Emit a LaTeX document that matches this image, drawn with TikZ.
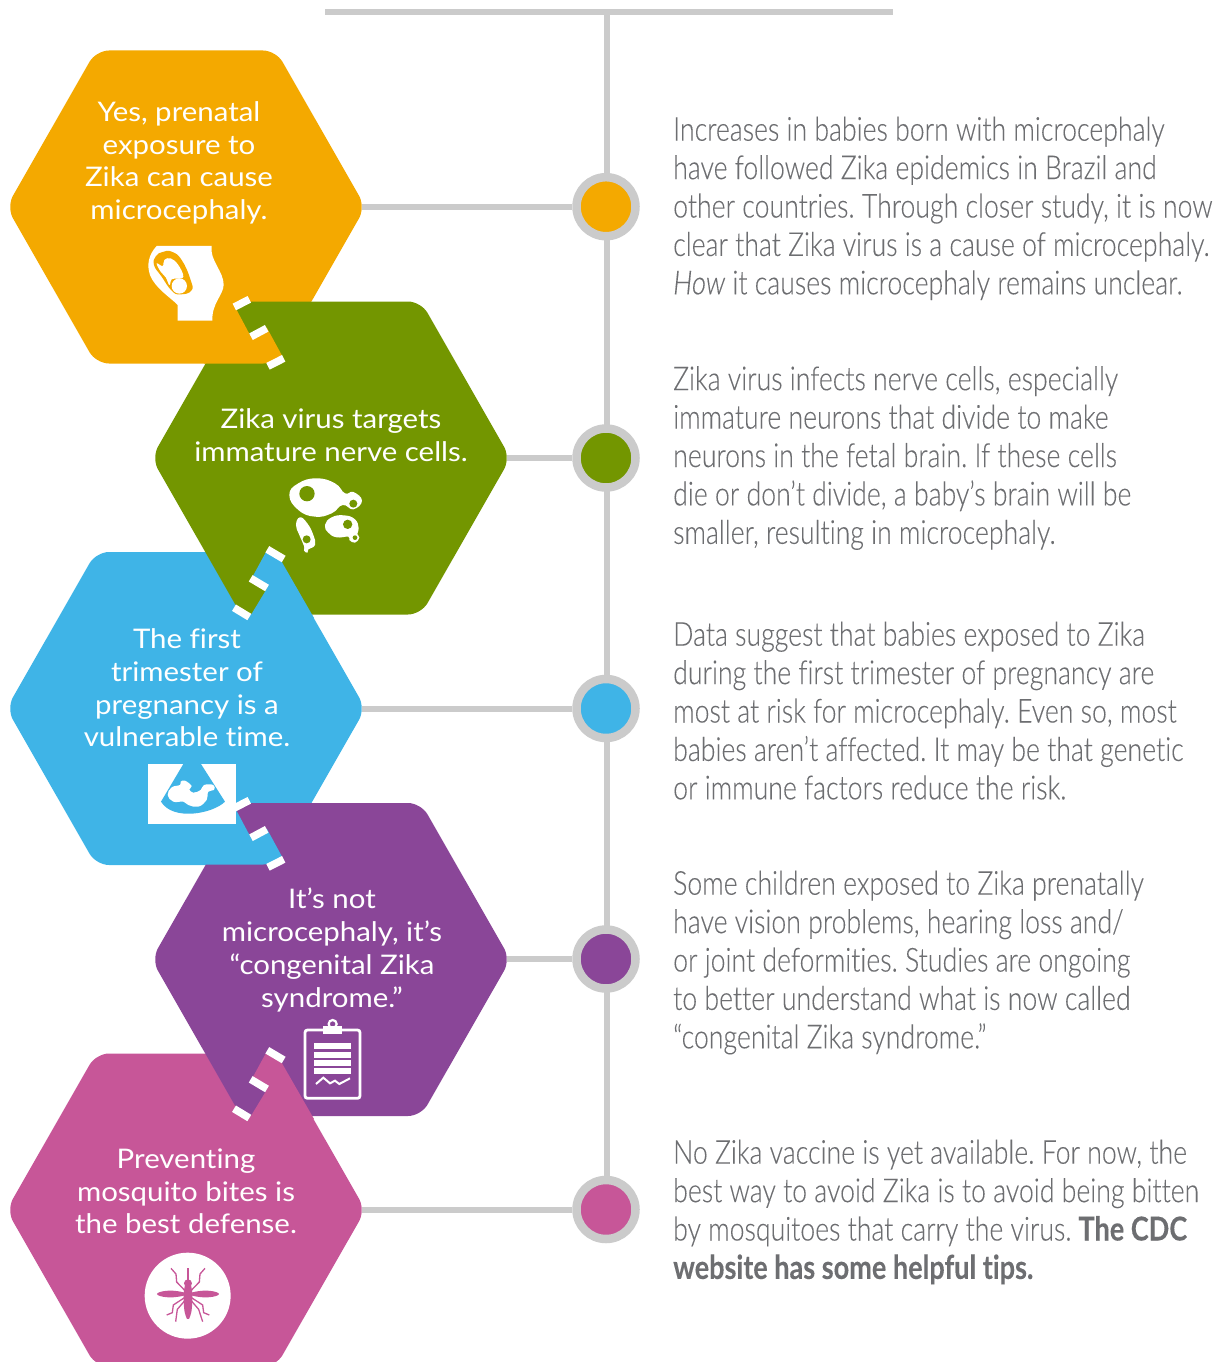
\documentclass[tikz,border=0pt]{standalone}
\usepackage{fontspec}
\usetikzlibrary{backgrounds}
\setmainfont{Lato}
\newfontfamily\hexfont[FakeStretch=1.09,Ligatures=NoCommon]{Lato}
\newfontfamily\bodyfont[FakeStretch=0.808,FakeBold=0.15,Ligatures=NoCommon,ItalicFont={Lato Light Italic},ItalicFeatures={FakeStretch=0.83,FakeBold=0.15},BoldFont={Lato Bold},BoldFeatures={FakeStretch=0.82}]{Lato Light}
\definecolor{cOrange}{HTML}{F4A900}
\definecolor{cGreen}{HTML}{739600}
\definecolor{cBlue}{HTML}{3FB4E7}
\definecolor{cPurple}{HTML}{8A4698}
\definecolor{cPink}{HTML}{C75698}
\definecolor{cRing}{HTML}{CBCBCB}
\definecolor{cText}{HTML}{6D6E71}
\tikzset{
  hexlabel/.style={text=white,align=center,inner sep=0pt,font=\hexfont\frenchspacing\fontsize{27}{32.7}\selectfont},
  bodytext/.style={text=cText,align=left,anchor=north west,inner sep=0pt,font=\bodyfont\frenchspacing\fontsize{33}{38.4}\selectfont},
  dot/.style={circle,draw=cRing,line width=8.5pt,minimum size=59pt,inner sep=0pt},
  rail/.style={draw=cRing,line width=6pt},
  tick/.style={draw=white,line width=7.5pt},
  hexagon/.pic={\fill[pic actions,rounded corners=13pt] (-179.5,0)--(-90,-156.5)--(90,-156.5)--(179.5,0)--(90,156.5)--(-90,156.5)--cycle;}
}
\begin{document}
\begin{tikzpicture}[x=1pt,y=-1pt]
\useasboundingbox (0,0) rectangle (1227,1362);
\begin{scope}
\clip (0,0) rectangle (1227,1362);
% odd hexagons first, even ones over them
\pic[fill=cOrange] at (186,207) {hexagon};
\pic[fill=cBlue] at (186,708.5) {hexagon};
\pic[fill=cPink] at (186,1210) {hexagon};
\pic[fill=cGreen] at (331,458) {hexagon};
\pic[fill=cPurple] at (331,959.5) {hexagon};
% interlocking tabs
\foreach \dy/\col in {0/cOrange,501/cBlue}{
 \begin{scope}[shift={(0,\dy)}]
 \fill[\col] (236.7,310)--(250,335)--(267,328)--(281.7,355) .. controls (277,360.5) and (270,363.5) .. (263.3,363.5)--(204,363.5)--(190,345)--cycle;
 \draw[tick] (234.3,307)--(249.3,299.3);
 \draw[tick] (251,336.7)--(266.7,328.3);
 \draw[tick] (268,366.3)--(283.7,358.3);
 \end{scope}}
\foreach \dy/\col in {0/cBlue,501/cPink}{
 \begin{scope}[shift={(0,\dy)}]
 \fill[\col] (265.7,552.5) .. controls (271,552.5) and (278,555) .. (281.7,561.7)--(314,618)--(240,640)--(248.3,619.3)--(265,591.7)--(267,588)--(250.7,580)--cycle;
 \draw[tick] (267.3,549.3)--(283.7,559);
 \draw[tick] (250.7,578.3)--(267,588);
 \draw[tick] (234,607.7)--(249.3,617);
 \end{scope}}
% pregnancy icon
\begin{scope}[shift={(130,230)},x=0.3333pt,y=-0.3333pt]
 \fill[white] (80,48)--(245,48) .. controls (238,90) and (282,125) .. (281,165) .. controls (280,195) and (245,220) .. (247,272)--(143,272)--(143,225) .. controls (125,205) and (75,175) .. (60,135) .. controls (50,105) and (55,75) .. (80,48)--cycle;
 \fill[cOrange] plot[smooth cycle,tension=.8] coordinates {(98,66)(125,65)(155,90)(182,150)(184,182)(150,193)(125,182)(95,140)(72,105)(78,78)};
 \fill[white] (148,168) circle[radius=23];
 \fill[white] plot[smooth cycle,tension=.7] coordinates {(80,100)(98,108)(103,90)(122,85)(145,105)(160,140)(140,146)(125,148)(118,165)(108,143)(92,125)};
\end{scope}
% neuron icon
\begin{scope}[shift={(220,460)},x=0.3333pt,y=-0.3333pt]
 \fill[white] plot[smooth cycle,tension=.8] coordinates {(208,105)(235,70)(290,55)(345,70)(375,100)(400,96)(426,122)(400,148)(368,135)(335,160)(285,170)(235,150)};
 \fill[cGreen] (261,101) circle[radius=23];
 \fill[cGreen] (400,131) circle[radius=12];
 \fill[white] plot[smooth cycle,tension=.8] coordinates {(240,172)(262,190)(280,225)(285,255)(265,268)(263,278)(252,272)(252,258)(238,225)(228,195)};
 \fill[cGreen] (260,238) circle[radius=12];
 \fill[white] plot[smooth cycle,tension=.8] coordinates {(315,195)(335,172)(372,166)(405,178)(416,205)(412,222)(418,233)(405,248)(388,240)(385,230)(350,232)(325,218)};
 \fill[cGreen] (383,193) circle[radius=14];
 \fill[cGreen] (405,233) circle[radius=7];
\end{scope}
% ultrasound icon
\begin{scope}[shift={(130,750)},x=0.3333pt,y=-0.3333pt]
 \fill[white] (55,42) rectangle (318,222);
 \fill[cBlue] (160,42)--(213,42)--(285,155) .. controls (250,190) and (130,215) .. (93,155)--cycle;
 \fill[white] plot[smooth cycle,tension=.7] coordinates {(113,135)(125,112)(150,105)(152,95)(165,92)(185,108)(178,118)(190,128)(212,120)(222,105)(250,105)(252,120)(235,125)(230,150)(205,170)(175,165)(160,155)(130,155)};
\end{scope}
% clipboard icon
\begin{scope}[shift={(220,1010)},x=0.3333pt,y=-0.3333pt]
 \draw[white,line width=2.8pt,rounded corners=2.5pt] (255,60) rectangle (420,265);
 \fill[white] (310,48) rectangle (367,72);
 \draw[white,line width=2.2pt] (338,42) circle[radius=12];
 \fill[white] (282,100) rectangle (393,117);
 \fill[white] (282,127) rectangle (393,143);
 \fill[white] (282,151) rectangle (393,167);
 \fill[white] (282,175) rectangle (393,191);
 \draw[white,line width=2pt] (288,222)--(310,203)--(330,220)--(345,212)--(358,222)--(390,205);
\end{scope}
% mosquito icon
\begin{scope}[shift={(130,1250)},x=0.3333pt,y=-0.3333pt]
 \fill[white] (173,137) circle[radius=129];
 \fill[cPink] (174,100) circle[radius=12];
 \fill[cPink] plot[smooth cycle,tension=.8] coordinates {(174,95)(186,120)(186,170)(180,200)(174,207)(168,200)(162,170)(162,120)};
 \fill[cPink] plot[smooth cycle,tension=.8] coordinates {(81,132)(115,122)(165,128)(165,136)(115,142)};
 \fill[cPink] plot[smooth cycle,tension=.8] coordinates {(267,132)(233,122)(183,128)(183,136)(233,142)};
 \draw[cPink,line width=1.3pt] (174,55)--(174,95);
 \draw[cPink,line width=1.3pt] (123,55)--(138,72)--(140,96)--(168,125);
 \draw[cPink,line width=1.3pt] (225,55)--(210,72)--(208,96)--(180,125);
 \draw[cPink,line width=1.3pt] (165,142)--(130,165)--(127,188)--(110,195);
 \draw[cPink,line width=1.3pt] (183,142)--(218,165)--(221,188)--(238,195);
 \draw[cPink,line width=1.3pt] (166,150)--(142,178)--(137,215);
 \draw[cPink,line width=1.3pt] (182,150)--(206,178)--(218,215);
\end{scope}
\end{scope}
% timeline
\coordinate (barL) at (325,12);
\coordinate (barR) at (893,12);
\coordinate (barM) at (606.5,12);
\coordinate (h1) at (362,206.7);
\coordinate (h2) at (507,458);
\coordinate (h3) at (362,708.5);
\coordinate (h4) at (507,959);
\coordinate (h5) at (362,1209.5);
\node[dot,fill=cOrange] (c1) at (606,206.7) {};
\node[dot,fill=cGreen] (c2) at (606,458) {};
\node[dot,fill=cBlue] (c3) at (606,708.5) {};
\node[dot,fill=cPurple] (c4) at (606,959) {};
\node[dot,fill=cPink] (c5) at (606,1209.5) {};
\begin{scope}[on background layer]
 \draw[rail] (barL)--(barR);
 \draw[rail] (barM)--(barM|-c5);
 \draw[rail] (h1)--(c1);
 \draw[rail] (h2)--(c2);
 \draw[rail] (h3)--(c3);
 \draw[rail] (h4)--(c4);
 \draw[rail] (h5)--(c5);
\end{scope}
% hexagon labels
\node[hexlabel] (t1) at (179,163) {Yes, prenatal\\exposure to\\Zika can cause\\microcephaly.};
\node[hexlabel] (t2) at (331,435) {Zika virus targets\\immature nerve cells.};
\node[hexlabel] (t3) at (187,688) {The first\\trimester of\\pregnancy is a\\vulnerable time.};
\node[hexlabel] (t4) at (332,950) {It’s not\\microcephaly, it’s\\“congenital Zika\\syndrome.”};
\node[hexlabel] (t5) at (186,1191.5) {Preventing\\mosquito bites is\\the best defense.};
% body text
\node[bodytext] (b1) at (673,116.5) {Increases in babies born with microcephaly\\have followed Zika epidemics in Brazil and\\other countries. Through closer study, it is now\\clear that Zika virus is a cause of microcephaly.\\\textit{How} it causes microcephaly remains unclear.};
\node[bodytext] (b2) at (673,366) {Zika virus infects nerve cells, especially\\immature neurons that divide to make\\neurons in the fetal brain. If these cells\\die or don’t divide, a baby’s brain will be\\smaller, resulting in microcephaly.};
\node[bodytext] (b3) at (673,621.5) {Data suggest that babies exposed to Zika\\during the first trimester of pregnancy are\\most at risk for microcephaly. Even so, most\\babies aren’t affected. It may be that genetic\\or immune factors reduce the risk.};
\node[bodytext] (b4) at (673,870.5) {Some children exposed to Zika prenatally\\have vision problems, hearing loss and/\\or joint deformities. Studies are ongoing\\to better understand what is now called\\“congenital Zika syndrome.”};
\node[bodytext] (b5) at (673,1139.5) {No Zika vaccine is yet available. For now, the\\best way to avoid Zika is to avoid being bitten\\by mosquitoes that carry the virus. \textbf{The CDC}\\\textbf{website has some helpful tips.}};
\end{tikzpicture}
\end{document}
